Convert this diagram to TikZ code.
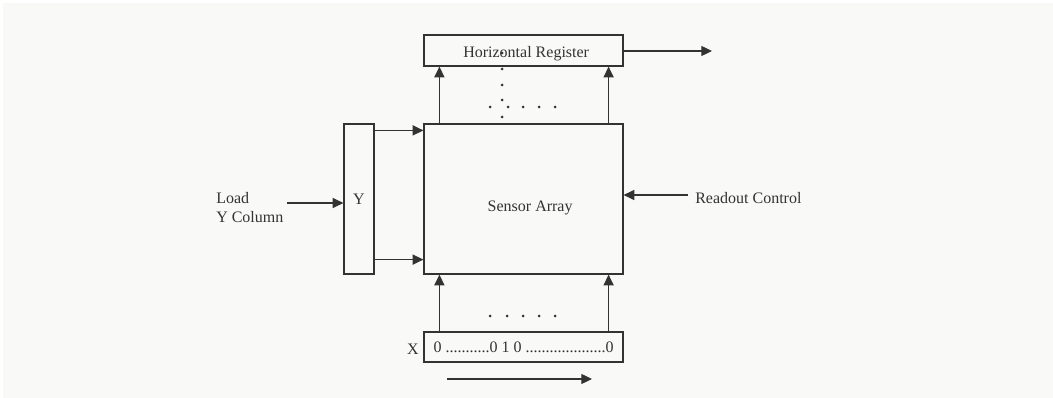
\documentclass[tikz,border=0pt]{standalone}
\usepackage{fontspec}
\setmainfont{Liberation Serif}
\usepackage{xcolor}
\usepackage{tikz}
\usetikzlibrary{arrows.meta,positioning,calc}
\definecolor{ink}{HTML}{333333}
\definecolor{paper}{HTML}{F9F9F7}
\tikzset{
  >={Triangle[length=8pt,width=7.5pt]},
  every node/.style={font=\fontsize{12}{14.25}\selectfont,text=ink},
  reg/.style={draw=ink,line width=0.9pt,inner sep=0pt,minimum width=149.25pt},
  arrow/.style={->,line width=0.9pt,draw=ink},
  txt/.style={inner sep=0pt,align=left},
  dot/.style={fill=ink}
}
\begin{document}
\begin{tikzpicture}[x=0.75pt,y=-0.75pt]
  \useasboundingbox (0,0) rectangle (1053,398);
  \fill[paper] (3,3) rectangle (1053,398);

  \node[reg,minimum height=23.25pt,label={[xshift=2pt,yshift=-2.5pt,inner sep=0pt]center:Horizontal Register}] (hreg) at (523.5,50.5) {};
  \node[reg,minimum height=112.5pt,label={[xshift=5pt,yshift=-6.75pt,inner sep=0pt]center:Sensor Array}] (sensor) at (523.5,199) {};
  \node[reg,minimum height=22.5pt] (xreg) at (523.5,347) {0 ...........0 1 0 ....................0};
  \node[reg,minimum width=22.5pt,minimum height=112.5pt] (ybox) at (359,199) {Y};

  \node[txt,anchor=east] (xlbl) at (419,349) {X};
  \node[txt,anchor=west] (load) at (216,208) {Load\\Y Column};
  \node[txt,anchor=west] (readout) at (695,198) {Readout Control};

  \coordinate (out) at (712,51);
  \coordinate (loadin) at (287,203);
  \coordinate (rdin) at (688,195);
  \coordinate (scanA) at (447,379);
  \coordinate (scanB) at (592,379);

  \draw[arrow] (hreg.east|-out)--(out);
  \draw[arrow] (sensor.north west)++(16,0) -- ($(hreg.south west)+(16,0)$);
  \draw[arrow] (sensor.north east)++(-15,0) -- ($(hreg.south east)+(-15,0)$);
  \draw[arrow] (xreg.north west)++(16,0) -- ($(sensor.south west)+(16,0)$);
  \draw[arrow] (xreg.north east)++(-15,0) -- ($(sensor.south east)+(-15,0)$);
  \draw[arrow] (ybox.north east)++(0,7) -- ($(sensor.north west)+(0,7)$);
  \draw[arrow] (ybox.south east)++(0,-15) -- ($(sensor.south west)+(0,-15)$);
  \draw[arrow] (loadin)--(ybox.west|-loadin);
  \draw[arrow] (rdin)--(sensor.east|-rdin);
  \draw[arrow] (scanA)--(scanB);

  % dots
  \foreach \y in {53,69,85,100,117} \fill[dot] (502,\y) circle (1.5);
  \foreach \x in {490,508,523,539,555} \fill[dot] (\x,107) circle (1.5);
  \foreach \x in {490,507,523,539,555} \fill[dot] (\x,316) circle (1.5);
\end{tikzpicture}
\end{document}
